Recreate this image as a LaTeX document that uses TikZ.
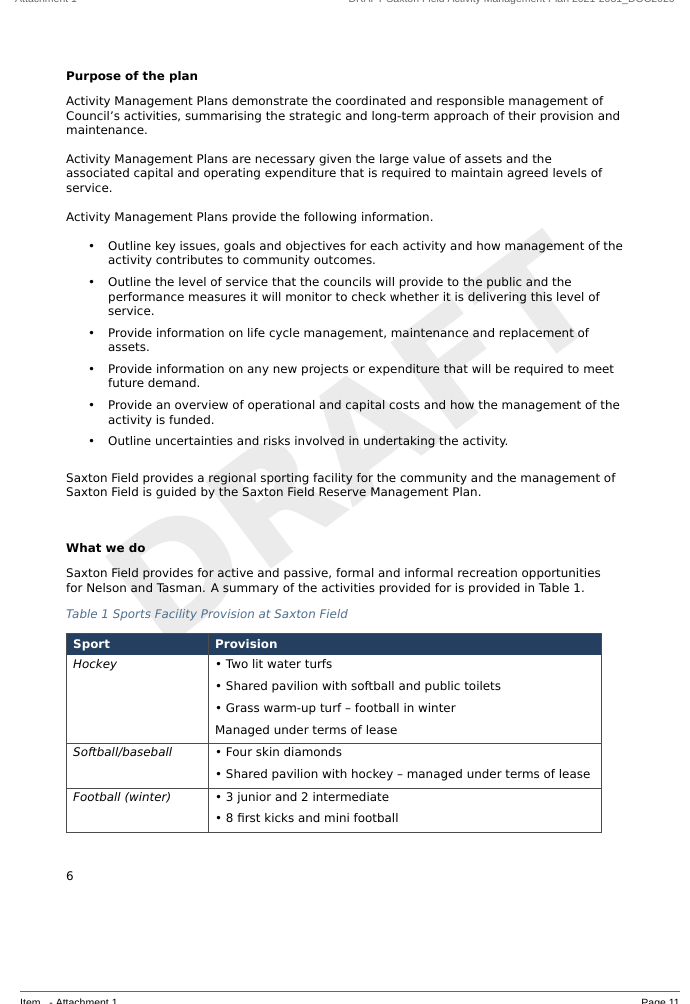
\documentclass[tikz,border=0pt]{standalone}
\usepackage{fontspec}
\setmainfont{DejaVu Sans}
\newfontfamily\arialf{Liberation Sans}
\definecolor{navy}{HTML}{243F60}
\definecolor{capblue}{HTML}{4F6F8F}
\newcommand{\tl}[3]{\node[txt] at (#2,#1) {#3};}
\begin{document}
\begin{tikzpicture}[x=1pt,y=-1pt,
  txt/.style={anchor=base west,inner sep=0pt,font=\fontsize{11.9}{13}\selectfont},
  bul/.style={anchor=base west,inner sep=0pt,font=\fontsize{11.9}{13}\selectfont},
  grid/.style={draw=black!70,line width=0.6pt}]
\useasboundingbox (0,0) rectangle (689,1004);
\fill[white] (0,0) rectangle (689,1004);
% watermark
\node[rotate=37,text=black!8,font=\bfseries\fontsize{150}{150}\selectfont,inner sep=0] (wm) at (352,440) {DRAFT};
% header (clipped)
\node[anchor=base west,inner sep=0,text=black!60,font=\arialf\fontsize{10.5}{12}\selectfont] (hl) at (15,2) {Attachment 1};
\node[anchor=base east,inner sep=0,text=black!60,font=\arialf\fontsize{10.5}{12}\selectfont] (hr) at (675,2) {DRAFT Saxton Field Activity Management Plan 2021-2031\_DOC2020};
% text
\node[txt,font=\bfseries\fontsize{11.9}{13}\selectfont] (h1) at (66,80) {Purpose of the plan};
\tl{105}{66}{Activity Management Plans demonstrate the coordinated and responsible management of}
\tl{120}{66}{Council’s activities, summarising the strategic and long-term approach of their provision and}
\tl{134}{66}{maintenance.}
\tl{163}{66}{Activity Management Plans are necessary given the large value of assets and the}
\tl{177}{66}{associated capital and operating expenditure that is required to maintain agreed levels of}
\tl{192}{66}{service.}
\tl{221}{66}{Activity Management Plans provide the following information.}
\foreach \y in {250,286,337,373,409,445} {\node[bul] at (88,\y) {•};}
\tl{250}{108}{Outline key issues, goals and objectives for each activity and how management of the}
\tl{264}{108}{activity contributes to community outcomes.}
\tl{286}{108}{Outline the level of service that the councils will provide to the public and the}
\tl{301}{108}{performance measures it will monitor to check whether it is delivering this level of}
\tl{315}{108}{service.}
\tl{337}{108}{Provide information on life cycle management, maintenance and replacement of}
\tl{351}{108}{assets.}
\tl{373}{108}{Provide information on any new projects or expenditure that will be required to meet}
\tl{387}{108}{future demand.}
\tl{409}{108}{Provide an overview of operational and capital costs and how the management of the}
\tl{424}{108}{activity is funded.}
\tl{445}{108}{Outline uncertainties and risks involved in undertaking the activity.}
\tl{482}{66}{Saxton Field provides a regional sporting facility for the community and the management of}
\tl{496}{66}{Saxton Field is guided by the Saxton Field Reserve Management Plan.}
\node[txt,font=\bfseries\fontsize{11.9}{13}\selectfont] (h2) at (66,552) {What we do};
\tl{577}{66}{Saxton Field provides for active and passive, formal and informal recreation opportunities}
\tl{592}{66}{for Nelson and Tasman. A summary of the activities provided for is provided in Table 1.}
\node[txt,text=capblue,font=\itshape\fontsize{11.9}{13}\selectfont] (cap) at (66,618) {Table 1 Sports Facility Provision at Saxton Field};
% table
\fill[navy] (66,633) rectangle (601,655);
\draw[grid] (66,633) rectangle (601,832);
\draw[grid] (208,633) -- (208,832);
\draw[grid] (66,743) -- (601,743);
\draw[grid] (66,788) -- (601,788);
\node[txt,text=white,font=\bfseries\fontsize{11.9}{13}\selectfont] (th1) at (73,648) {Sport};
\node[txt,text=white,font=\bfseries\fontsize{11.9}{13}\selectfont] (th2) at (215,648) {Provision};
\node[txt,font=\itshape\fontsize{11.9}{13}\selectfont] (s1) at (73,668) {Hockey};
\node[txt,font=\itshape\fontsize{11.9}{13}\selectfont] (s2) at (73,756) {Softball/baseball};
\node[txt,font=\itshape\fontsize{11.9}{13}\selectfont] (s3) at (73,801) {Football (winter)};
\tl{668}{215}{• Two lit water turfs}
\tl{690}{215}{• Shared pavilion with softball and public toilets}
\tl{712}{215}{• Grass warm-up turf – football in winter}
\tl{734}{215}{Managed under terms of lease}
\tl{756}{215}{• Four skin diamonds}
\tl{778}{215}{• Shared pavilion with hockey – managed under terms of lease}
\tl{801}{215}{• 3 junior and 2 intermediate}
\tl{822}{215}{• 8 first kicks and mini football}
\tl{880}{66}{6}
% footer
\draw[black!60,line width=0.8pt] (20,991) -- (680,991);
\node[anchor=base west,inner sep=0,font=\arialf\fontsize{10.5}{12}\selectfont] (fl) at (20,1006) {Item \ \ - Attachment 1};
\node[anchor=base east,inner sep=0,font=\arialf\fontsize{10.5}{12}\selectfont] (fr) at (680,1006) {Page 11};
\end{tikzpicture}
\end{document}
